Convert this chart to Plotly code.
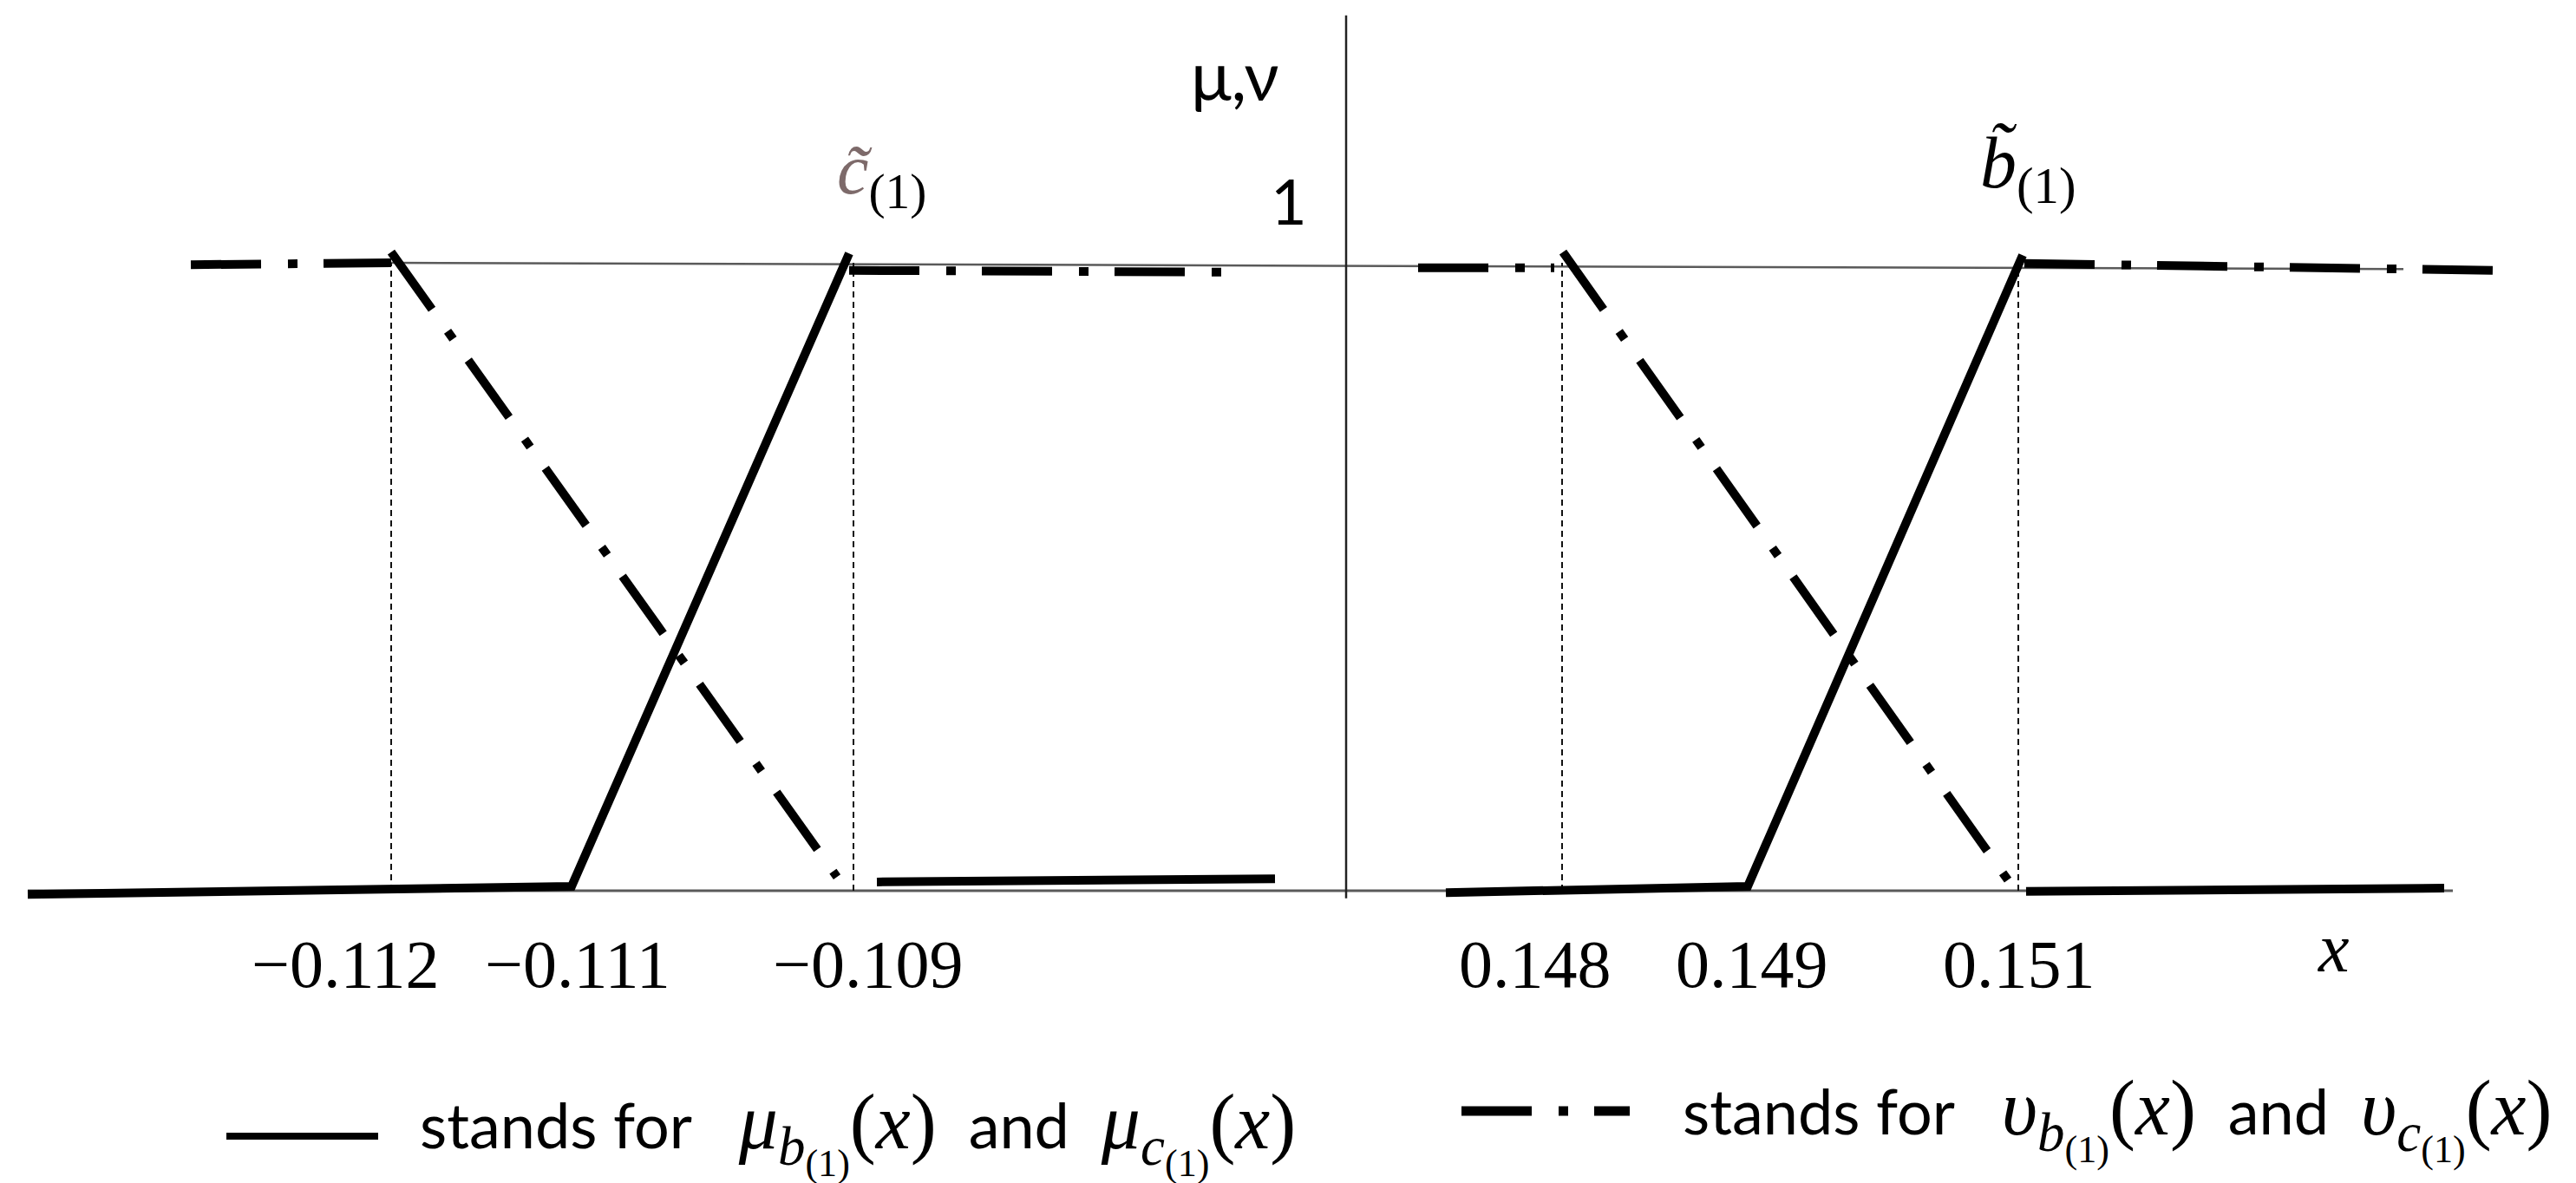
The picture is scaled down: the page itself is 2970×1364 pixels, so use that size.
import plotly.graph_objects as go

# The x axis of this figure is a broken, non-uniform schematic axis.
# Positions below in axis units u (u = 0 at the mu,nu axis).

# membership of c~(1)  (solid)
mu_c_x = [-15.20, -8.93, -5.73]
mu_c_y = [-0.006, 0.007, 1.015]
mu_c_tail_x = [-5.41, -0.82]
mu_c_tail_y = [0.014, 0.019]

# non-membership of c~(1)  (dash-dot)
nu_c_head_x = [-13.32, -11.01]
nu_c_head_y = [0.997, 1.0]
nu_c_x = [-11.01, -5.87]
nu_c_y = [1.017, 0.022]
nu_c_tail_x = [-5.73, -1.18]
nu_c_tail_y = [0.988, 0.985]

# membership of b~(1)  (solid)
mu_b_x = [1.15, 4.63, 7.80]
mu_b_y = [-0.003, 0.007, 1.012]
mu_b_tail_x = [7.84, 12.66]
mu_b_tail_y = [-0.001, 0.004]

# non-membership of b~(1)  (dash-dot)
nu_b_head_x = [0.83, 2.40]
nu_b_head_y = [0.992, 0.992]
nu_b_x = [2.50, 7.63]
nu_b_y = [1.017, 0.017]
nu_b_tail_x = [7.82, 13.23]
nu_b_tail_y = [0.999, 0.988]

# drop lines at the break points
drop_x = [-11.01, -5.68, 2.49, 7.75]

# guide line at level 1, x axis, y axis
level1_x = [-11.01, 12.19]
level1_y = [1.0, 0.99]
xaxis_x = [-15.20, 12.76]
xaxis_y = [0.0, 0.0]
yaxis_x = [0.0, 0.0]
yaxis_y = [-0.012, 1.394]

tick_labels = ["\u22120.112", "\u22120.111", "\u22120.109", "0.148", "0.149", "0.151"]
tick_pos = [-11.54, -8.86, -5.51, 2.18, 4.68, 7.76]

DASHDOT = "81px,31px,11px,30px"
MATH = "Liberation Serif"
TEXT = "Lato"

fig = go.Figure()


def line(x, y, width, color="black", dash="solid"):
    fig.add_trace(go.Scatter(x=x, y=y, mode="lines", hoverinfo="skip",
                             line=dict(color=color, width=width, dash=dash)))


# thin construction lines
line(xaxis_x, xaxis_y, 3, "#5a5a5a")
line(level1_x, level1_y, 2.5, "#5a5a5a")
line(yaxis_x, yaxis_y, 2.5, "#222222")
for xd in drop_x:
    line([xd, xd], [0, 1], 2, "#111111", "7px,5px")

# solid curves
for xs, ys in [(mu_c_x, mu_c_y), (mu_c_tail_x, mu_c_tail_y),
               (mu_b_x, mu_b_y), (mu_b_tail_x, mu_b_tail_y)]:
    line(xs, ys, 10)

# dash-dot curves
for xs, ys in [(nu_c_head_x, nu_c_head_y), (nu_c_x, nu_c_y), (nu_c_tail_x, nu_c_tail_y),
               (nu_b_head_x, nu_b_head_y), (nu_b_x, nu_b_y), (nu_b_tail_x, nu_b_tail_y)]:
    line(xs, ys, 10, dash=DASHDOT)

ann = []
for t, p in zip(tick_labels, tick_pos):
    ann.append(dict(x=p, y=-0.117, text=t, showarrow=False,
                    font=dict(family=MATH, size=78, color="black")))

ann += [
    dict(x=11.38, y=-0.091, text="<i>x</i>", showarrow=False,
         font=dict(family=MATH, size=80, color="black")),
    dict(x=-1.28, y=1.30, text="\u03bc,\u03bd", showarrow=False,
         font=dict(family=TEXT, size=78, color="black")),
    dict(x=-0.66, y=1.10, text="1", showarrow=False,
         font=dict(family=TEXT, size=72, color="black")),
    dict(x=-5.36, y=1.14, showarrow=False,
         text="<span style='color:#7d6a6a'><i>c\u0303</i></span><sub>(1)</sub>",
         font=dict(family=MATH, size=82, color="black")),
    dict(x=7.86, y=1.15, showarrow=False,
         text="<i>b\u0303</i><sub>(1)</sub>",
         font=dict(family=MATH, size=84, color="black")),
]


def fn(sym, sub):
    return ("<span style='font-family:%s;font-size:90px'><i>%s</i><sub><i>%s</i><sub>(1)</sub></sub>(<i>x</i>)</span>"
            % (MATH, sym, sub))


nb = "\u00a0"
legend_texts = [
    (474 / 2970, 1 - 1297 / 1364,
     "stands for" + nb * 3 + fn("\u03bc", "b") + nb * 2 + "and" + nb * 2 + fn("\u03bc", "c")),
    (1930 / 2970, 1 - 1281 / 1364,
     "stands for" + nb * 3 + fn("\u03c5", "b") + nb * 2 + "and" + nb * 2 + fn("\u03c5", "c")),
]
for lx, ly, txt in legend_texts:
    ann.append(dict(xref="paper", yref="paper", x=lx, y=ly, xanchor="left", yanchor="middle",
                    text=txt, showarrow=False, font=dict(family=TEXT, size=72, color="black")))

shapes = [
    dict(type="line", xref="paper", yref="paper", x0=253 / 2970, x1=428 / 2970,
         y0=1 - 1302 / 1364, y1=1 - 1302 / 1364, line=dict(color="black", width=8)),
    dict(type="line", xref="paper", yref="paper", x0=1677 / 2970, x1=1871 / 2970,
         y0=1 - 1273 / 1364, y1=1 - 1273 / 1364, line=dict(color="black", width=11, dash=DASHDOT)),
]

fig.update_layout(
    width=2970, height=1364,
    margin=dict(l=0, r=0, t=0, b=0),
    paper_bgcolor="white", plot_bgcolor="white",
    showlegend=False,
    xaxis=dict(visible=False, range=[-15.44, 14.26]),
    yaxis=dict(visible=False, range=[-0.4765, 1.4075]),
    annotations=ann, shapes=shapes,
)

fig.write_html("out.html")
